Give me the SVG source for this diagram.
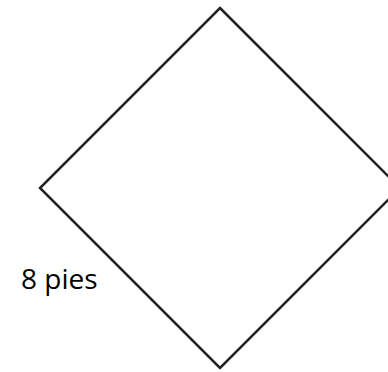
<svg xmlns="http://www.w3.org/2000/svg" width="388" height="372" viewBox="0 0 388 372">
<style>
.shape{fill:none;stroke:#222;stroke-width:2.5;stroke-linejoin:miter}
.lbl{font-family:"Open Sans",sans-serif;font-size:28px;fill:#000}
</style>
<rect width="388" height="372" fill="#fff"/>
<g id="diamond">
<polygon class="shape" points="220,8 400,188 220,368 40,188"/>
</g>
<g id="label">
<text class="lbl" x="21" y="289">8 pies</text>
</g>
</svg>
